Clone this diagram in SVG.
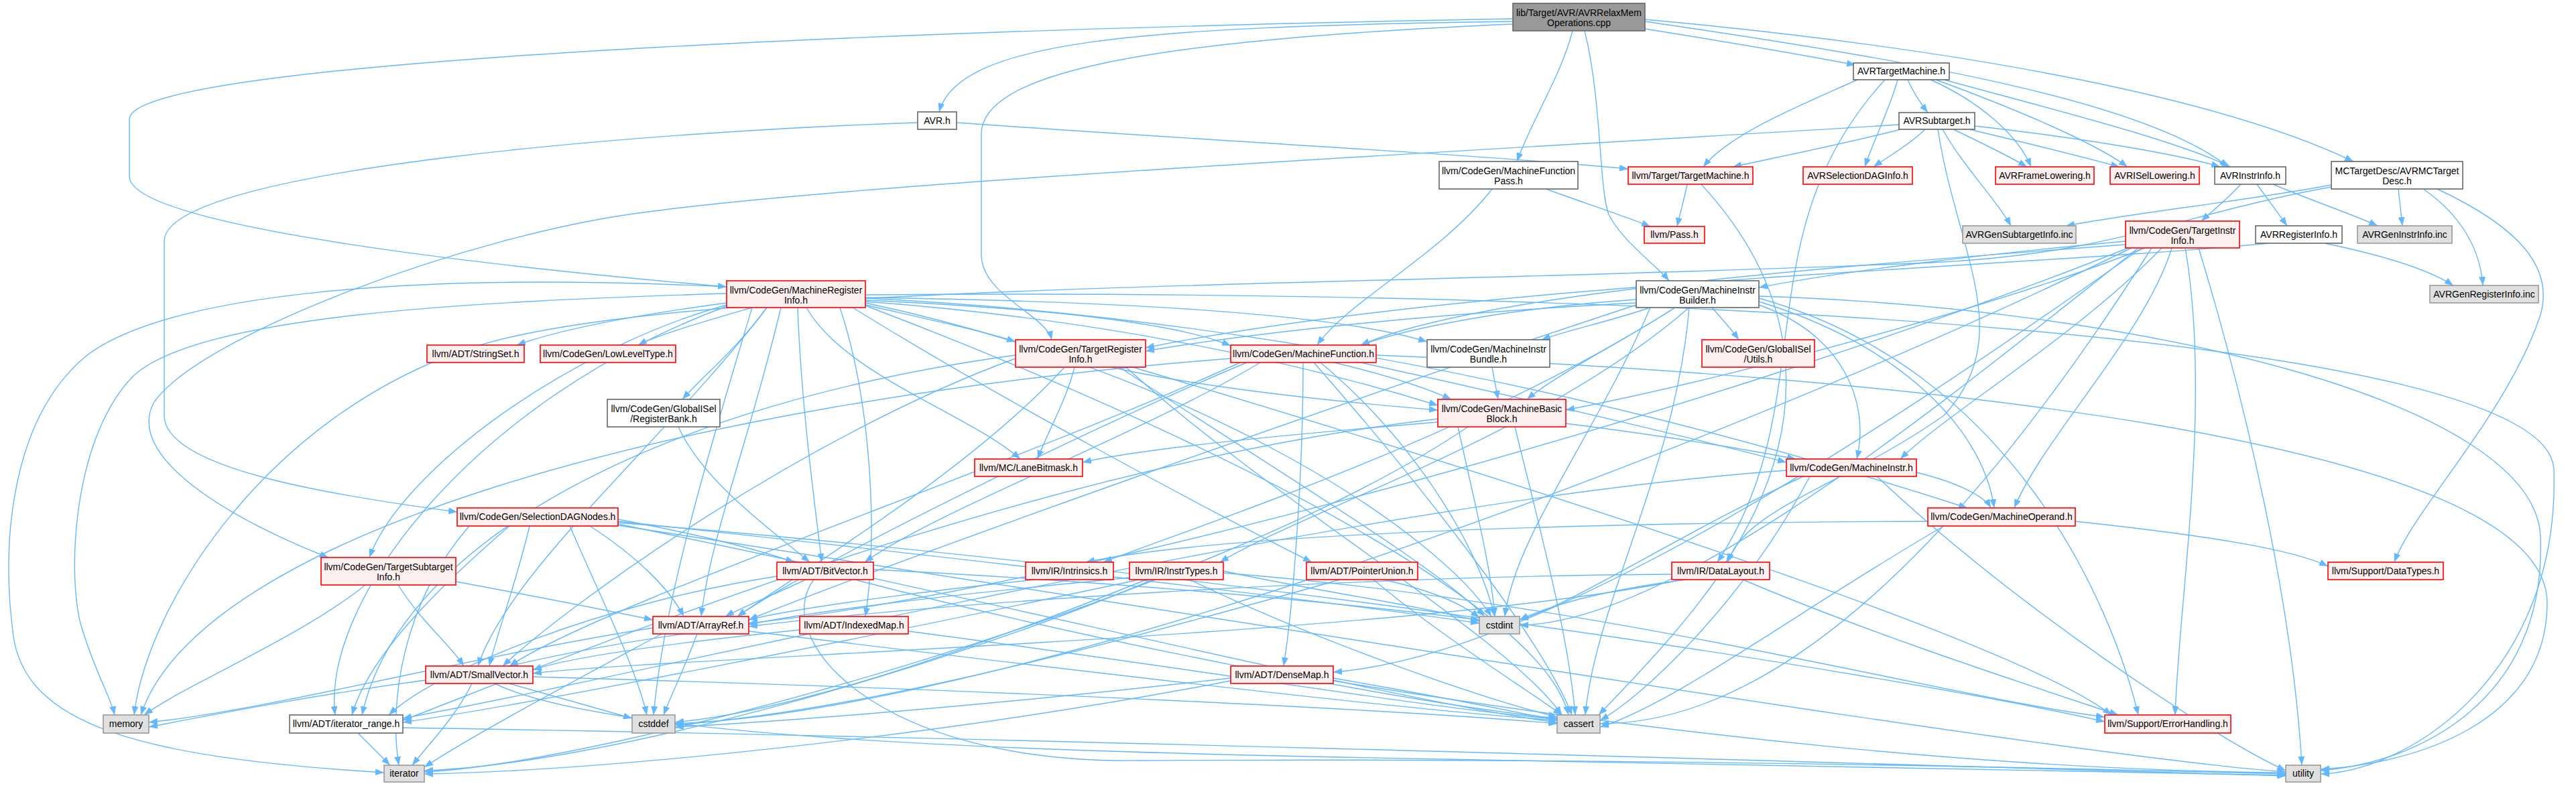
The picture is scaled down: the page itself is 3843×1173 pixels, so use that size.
<svg xmlns="http://www.w3.org/2000/svg" width="3843" height="1173" viewBox="0 0 3843 1173">
<defs>
<style>
.e path{fill:none;stroke:#63b8ff;stroke-width:1.4;marker-end:url(#a)}
.n rect{stroke-width:1.6}
.w rect{fill:#ffffff;stroke:#666666}
.r rect{fill:#fff0f0;stroke:#ff0000}
.g rect{fill:#e0e0e0;stroke:#999999}
.root rect{fill:#999999;stroke:#666666}
text{font-family:"Liberation Sans",Arial,sans-serif;font-size:14px;fill:#000000;text-anchor:middle}
</style>
<marker id="a" markerUnits="userSpaceOnUse" markerWidth="13" markerHeight="10" refX="13" refY="5" orient="auto">
<path d="M0,0 L13,5 L0,10 z" fill="#63b8ff" stroke="none"/>
</marker>
</defs>
<rect width="3843" height="1173" fill="#ffffff"/>
<g id="edges" class="e">
<path d="M2257,32 C1700,40 1430,60 1401,167"/>
<path d="M2257,28 C1600,40 193,80 193,178 L193,263 C193,340 760,400 1084,428"/>
<path d="M2257,36 C1700,60 1464,110 1464,200 L1464,380 C1464,440 1560,470 1569,507"/>
<path d="M2346,46 C2330,110 2285,180 2263,241"/>
<path d="M2364,46 C2390,150 2385,280 2400,320 C2420,360 2470,395 2490,419"/>
<path d="M2454,43 C2560,60 2680,80 2768,97"/>
<path d="M2454,32 C2850,90 3200,150 3324,249"/>
<path d="M2454,29 C2900,70 3300,140 3511,241"/>
<path d="M1369,183 C1000,195 245,250 245,360 L245,620 C245,700 500,740 682,764"/>
<path d="M1427,183 C1800,210 2200,230 2429,252"/>
<path d="M2771,119 C2680,160 2580,200 2541,249"/>
<path d="M2812,119 C2600,350 2720,600 2562,839"/>
<path d="M2831,119 C2820,160 2795,210 2782,249"/>
<path d="M2846,119 C2855,140 2866,155 2876,168"/>
<path d="M2880,119 C2950,150 3010,200 3030,249"/>
<path d="M2888,119 C3000,160 3120,210 3174,249"/>
<path d="M2900,119 C3050,160 3250,210 3327,249"/>
<path d="M2833,186 C2300,220 1300,270 960,317 C700,350 300,500 230,600 C180,690 380,790 490,832"/>
<path d="M2836,193 C2750,215 2650,235 2585,249"/>
<path d="M2872,193 C2850,215 2815,235 2795,249"/>
<path d="M2914,193 C2960,215 3000,235 3024,249"/>
<path d="M2938,193 C3030,215 3110,235 3162,249"/>
<path d="M2946,188 C3100,205 3250,230 3312,249"/>
<path d="M2898,193 C2930,250 2980,300 3000,337"/>
<path d="M2891,193 C2920,380 3010,500 2900,620 C2760,720 2600,760 2578,839"/>
<path d="M2306,282 C2370,305 2430,325 2462,338"/>
<path d="M2226,282 C2150,380 2010,450 1965,515"/>
<path d="M2517,275 C2512,300 2506,320 2502,338"/>
<path d="M2538,275 C2700,450 2700,650 2575,839"/>
<path d="M3343,275 C3320,300 3300,315 3284,330"/>
<path d="M3367,275 C3385,300 3400,320 3412,337"/>
<path d="M3391,275 C3450,300 3510,320 3547,337"/>
<path d="M3478,276 C3350,300 3200,315 3082,337"/>
<path d="M3478,279 C3250,320 3150,380 2880,392 C2000,430 1000,420 700,520 C400,620 220,900 200,1067"/>
<path d="M3578,282 C3580,300 3582,320 3584,337"/>
<path d="M3615,282 C3670,320 3700,370 3704,426"/>
<path d="M3636,282 C3760,340 3810,400 3790,470 C3740,620 3600,760 3572,839"/>
<path d="M3385,363 C3000,400 2200,420 1709,519"/>
<path d="M3468,363 C3550,380 3620,400 3660,426"/>
<path d="M3171,360 C2950,380 2750,405 2624,429"/>
<path d="M3171,365 C2700,400 2200,440 2030,515"/>
<path d="M3200,370 C3000,450 2600,560 2336,612"/>
<path d="M3225,370 C3100,500 2900,620 2835,685"/>
<path d="M3240,370 C3200,500 3050,650 3005,758"/>
<path d="M3260,370 C3300,600 3250,900 3245,1067"/>
<path d="M3280,370 C3350,600 3420,900 3434,1142"/>
<path d="M3210,370 C3000,700 2700,1080 2387,1080"/>
<path d="M3190,370 C2900,600 2500,930 2267,933"/>
<path d="M3180,370 C2500,700 1500,1060 1007,1080"/>
<path d="M3195,370 C2800,650 2300,980 1989,1003"/>
<path d="M3175,370 C2600,600 1600,880 1117,930"/>
<path d="M1084,452 C950,470 840,490 771,515"/>
<path d="M1122,459 C1050,480 980,500 952,515"/>
<path d="M1144,459 C1100,520 1050,560 1018,596"/>
<path d="M1291,455 C1400,480 1470,495 1515,510"/>
<path d="M1203,459 C1260,560 1450,620 1522,685"/>
<path d="M1291,448 C1550,460 1750,480 1836,516"/>
<path d="M1291,444 C1700,450 2000,470 2129,510"/>
<path d="M1291,450 C1700,480 2000,560 2145,605"/>
<path d="M1291,445 C2000,480 2600,650 2935,758"/>
<path d="M1084,455 C850,520 600,700 551,832"/>
<path d="M1190,459 C1195,600 1215,750 1226,839"/>
<path d="M1253,459 C1300,600 1310,800 1291,920"/>
<path d="M1165,459 C1120,650 1060,800 1046,920"/>
<path d="M1272,459 C1500,600 1800,760 1957,839"/>
<path d="M1144,459 C1000,650 760,850 713,994"/>
<path d="M1084,457 C700,600 480,900 500,1067"/>
<path d="M1084,438 C700,450 300,470 200,560 C110,650 100,850 120,930 C140,1000 165,1040 171,1067"/>
<path d="M1084,428 C600,405 250,440 130,530 C20,620 0,800 20,950 C40,1080 200,1130 573,1153"/>
<path d="M1122,459 C1050,700 990,900 975,1067"/>
<path d="M1291,452 C1800,560 2150,800 2225,920"/>
<path d="M1291,456 C1800,650 2300,900 2340,1067"/>
<path d="M1291,440 C2500,430 3800,500 3810,700 C3820,1000 3600,1150 3462,1155"/>
<path d="M2554,459 C2568,475 2582,490 2594,507"/>
<path d="M2462,459 C2400,480 2330,495 2300,507"/>
<path d="M2499,459 C2420,510 2320,560 2278,596"/>
<path d="M2441,447 C2250,460 2100,490 2030,515"/>
<path d="M2441,452 C2100,470 1850,500 1709,524"/>
<path d="M2624,455 C2750,500 2790,600 2770,685"/>
<path d="M2624,450 C2850,520 2960,650 2975,758"/>
<path d="M2520,459 C2300,650 1950,760 1820,839"/>
<path d="M2499,459 C2200,650 1800,780 1646,839"/>
<path d="M2624,445 C3000,550 3150,900 3190,1067"/>
<path d="M2520,459 C2500,700 2380,900 2365,1067"/>
<path d="M2462,459 C2380,650 2260,800 2245,920"/>
<path d="M2624,442 C3200,460 3780,600 3790,800 C3800,1050 3600,1140 3462,1150"/>
<path d="M2441,455 C2000,600 1300,850 1117,925"/>
<path d="M1603,548 C1590,600 1560,650 1548,685"/>
<path d="M1588,548 C1450,700 1200,850 1100,920"/>
<path d="M1515,535 C1200,650 850,900 750,994"/>
<path d="M1515,530 C1000,600 600,800 540,1067"/>
<path d="M1658,548 C1800,580 2000,600 2145,612"/>
<path d="M1690,548 C2200,700 3000,950 3150,1067"/>
<path d="M1680,548 C1900,750 2250,950 2330,1067"/>
<path d="M1670,548 C1900,700 2150,850 2215,920"/>
<path d="M2226,548 C2229,565 2232,580 2235,596"/>
<path d="M1990,541 C2070,560 2130,580 2165,596"/>
<path d="M2030,541 C2300,600 2550,660 2665,690"/>
<path d="M1860,541 C1600,650 1200,850 1100,920"/>
<path d="M1880,541 C1700,650 1400,760 1290,839"/>
<path d="M1944,541 C1944,700 1930,900 1915,994"/>
<path d="M1850,541 C1500,700 900,900 760,994"/>
<path d="M1960,541 C2100,700 2300,950 2345,1067"/>
<path d="M1970,541 C2100,650 2200,800 2230,920"/>
<path d="M1836,535 C1000,600 300,800 210,1067"/>
<path d="M2053,530 C2800,560 3800,650 3800,900 C3800,1080 3600,1140 3462,1148"/>
<path d="M2336,632 C2480,650 2600,670 2679,685"/>
<path d="M2145,630 C1900,650 1700,670 1615,690"/>
<path d="M2145,625 C1500,700 800,1000 601,1075"/>
<path d="M2175,637 C2200,750 2225,850 2230,920"/>
<path d="M2260,637 C2300,800 2340,950 2350,1067"/>
<path d="M2190,637 C1800,900 900,1140 633,1152"/>
<path d="M2859,705 C2920,720 2960,740 2970,758"/>
<path d="M2665,702 C2000,750 1000,1000 601,1072"/>
<path d="M2700,711 C2600,900 2450,1040 2387,1075"/>
<path d="M2690,711 C2500,800 2350,900 2267,925"/>
<path d="M2800,711 C3000,900 3300,1100 3410,1150"/>
<path d="M2876,778 C2300,780 1800,800 1620,839"/>
<path d="M3096,778 C3300,800 3420,820 3473,845"/>
<path d="M2900,785 C2700,900 2500,1050 2387,1085"/>
<path d="M880,785 C950,830 1000,880 1020,920"/>
<path d="M922,775 C1000,790 1100,810 1185,839"/>
<path d="M790,785 C770,870 740,950 730,994"/>
<path d="M760,785 C650,880 550,980 525,1067"/>
<path d="M922,780 C1800,850 2800,1000 3140,1077"/>
<path d="M922,782 C1500,900 2100,1050 2323,1078"/>
<path d="M850,785 C900,900 950,1000 965,1067"/>
<path d="M922,778 C1500,840 2000,900 2207,930"/>
<path d="M700,785 C600,900 580,1050 595,1142"/>
<path d="M922,784 C2000,950 3100,1130 3410,1152"/>
<path d="M545,873 C450,950 280,1020 215,1067"/>
<path d="M594,873 C630,930 670,960 692,994"/>
<path d="M680,868 C800,890 900,910 974,925"/>
<path d="M1012,637 C1050,720 1150,790 1208,839"/>
<path d="M1202,865 C1160,885 1110,905 1082,920"/>
<path d="M1159,860 C900,900 650,1000 580,1067"/>
<path d="M1275,865 C1600,950 2100,1050 2323,1072"/>
<path d="M1303,850 C1700,870 2000,900 2207,925"/>
<path d="M1214,865 C1150,950 1300,1140 1700,1135 C2500,1130 3200,1150 3410,1155"/>
<path d="M1021,946 C920,960 820,980 760,994"/>
<path d="M1040,946 C1020,1000 1000,1040 990,1067"/>
<path d="M1117,942 C1600,1000 2100,1060 2323,1075"/>
<path d="M987,946 C850,1020 700,1100 633,1145"/>
<path d="M974,937 C700,980 400,1060 222,1078"/>
<path d="M1193,940 C1000,960 850,980 795,1000"/>
<path d="M1355,942 C1800,1000 2150,1060 2323,1073"/>
<path d="M1999,865 C1700,950 1300,1060 1007,1082"/>
<path d="M2049,865 C2150,950 2280,1030 2330,1067"/>
<path d="M2064,865 C2130,880 2180,900 2207,922"/>
<path d="M1545,865 C1400,880 1200,905 1117,925"/>
<path d="M1685,862 C1500,880 1250,905 1117,932"/>
<path d="M1700,865 C1300,950 800,1050 601,1078"/>
<path d="M1825,855 C2400,900 2900,1040 3140,1070"/>
<path d="M1775,865 C1950,950 2200,1040 2323,1070"/>
<path d="M1710,865 C1500,950 1200,1060 1007,1078"/>
<path d="M1825,852 C1950,880 2100,900 2207,927"/>
<path d="M1720,865 C1400,1000 900,1140 633,1150"/>
<path d="M2494,857 C2000,860 1400,900 1117,935"/>
<path d="M2510,865 C2100,950 1000,980 795,1005"/>
<path d="M2515,865 C2400,880 2320,900 2267,925"/>
<path d="M2560,865 C2500,950 2420,1030 2385,1067"/>
<path d="M2600,865 C2800,950 3050,1030 3160,1067"/>
<path d="M1989,1012 C2150,1040 2250,1060 2323,1075"/>
<path d="M1836,1012 C1500,1050 1200,1075 1007,1085"/>
<path d="M1836,1016 C1400,1100 900,1150 633,1155"/>
<path d="M1989,1016 C2500,1100 3000,1150 3410,1153"/>
<path d="M635,1015 C450,1040 300,1070 222,1085"/>
<path d="M704,1020 C680,1070 640,1110 615,1142"/>
<path d="M759,1020 C830,1040 900,1060 943,1072"/>
<path d="M795,1010 C1500,1030 2100,1060 2323,1080"/>
<path d="M738,1020 C900,1100 1500,1120 2000,1130 C2600,1140 3100,1152 3410,1157"/>
<path d="M534,1094 C550,1110 566,1126 582,1142"/>
<path d="M601,1086 C1500,1100 2800,1140 3410,1158"/>
</g>
<g id="n1" class="n root"><rect x="2257" y="5" width="197" height="41"/><text x="2355.5" y="24">lib/Target/AVR/AVRRelaxMem</text><text x="2355.5" y="39">Operations.cpp</text></g>
<g id="n2" class="n w"><rect x="1369" y="167" width="58" height="26"/><text x="1398" y="185">AVR.h</text></g>
<g id="n3" class="n w"><rect x="2765" y="94" width="143" height="25"/><text x="2836.5" y="111">AVRTargetMachine.h</text></g>
<g id="n4" class="n w"><rect x="2833" y="168" width="113" height="25"/><text x="2889.5" y="185">AVRSubtarget.h</text></g>
<g id="n5" class="n w"><rect x="2147" y="241" width="207" height="41"/><text x="2250.5" y="260">llvm/CodeGen/MachineFunction</text><text x="2250.5" y="275">Pass.h</text></g>
<g id="n6" class="n r"><rect x="2429" y="249" width="186" height="26"/><text x="2522" y="267">llvm/Target/TargetMachine.h</text></g>
<g id="n7" class="n r"><rect x="2690" y="249" width="163" height="26"/><text x="2771.5" y="267">AVRSelectionDAGInfo.h</text></g>
<g id="n8" class="n r"><rect x="2453" y="338" width="90" height="25"/><text x="2498" y="355">llvm/Pass.h</text></g>
<g id="n9" class="n r"><rect x="2977" y="249" width="147" height="26"/><text x="3050.5" y="267">AVRFrameLowering.h</text></g>
<g id="n10" class="n r"><rect x="3148" y="249" width="133" height="26"/><text x="3214.5" y="267">AVRISelLowering.h</text></g>
<g id="n11" class="n w"><rect x="3304" y="249" width="106" height="26"/><text x="3357" y="267">AVRInstrInfo.h</text></g>
<g id="n12" class="n w"><rect x="3478" y="241" width="196" height="41"/><text x="3576" y="260">MCTargetDesc/AVRMCTarget</text><text x="3576" y="275">Desc.h</text></g>
<g id="n13" class="n g"><rect x="2928" y="337" width="169" height="26"/><text x="3012.5" y="355">AVRGenSubtargetInfo.inc</text></g>
<g id="n14" class="n r"><rect x="3171" y="330" width="170" height="40"/><text x="3256" y="349">llvm/CodeGen/TargetInstr</text><text x="3256" y="364">Info.h</text></g>
<g id="n15" class="n w"><rect x="3365" y="337" width="129" height="26"/><text x="3429.5" y="355">AVRRegisterInfo.h</text></g>
<g id="n16" class="n g"><rect x="3517" y="337" width="141" height="26"/><text x="3587.5" y="355">AVRGenInstrInfo.inc</text></g>
<g id="n17" class="n g"><rect x="3625" y="426" width="162" height="26"/><text x="3706" y="444">AVRGenRegisterInfo.inc</text></g>
<g id="n18" class="n r"><rect x="1084" y="419" width="207" height="40"/><text x="1187.5" y="438">llvm/CodeGen/MachineRegister</text><text x="1187.5" y="453">Info.h</text></g>
<g id="n19" class="n w"><rect x="2441" y="419" width="183" height="40"/><text x="2532.5" y="438">llvm/CodeGen/MachineInstr</text><text x="2532.5" y="453">Builder.h</text></g>
<g id="n20" class="n r"><rect x="637" y="515" width="145" height="26"/><text x="709.5" y="533">llvm/ADT/StringSet.h</text></g>
<g id="n21" class="n r"><rect x="806" y="515" width="202" height="26"/><text x="907" y="533">llvm/CodeGen/LowLevelType.h</text></g>
<g id="n22" class="n r"><rect x="1515" y="507" width="194" height="41"/><text x="1612" y="526">llvm/CodeGen/TargetRegister</text><text x="1612" y="541">Info.h</text></g>
<g id="n23" class="n r"><rect x="1836" y="515" width="217" height="26"/><text x="1944.5" y="533">llvm/CodeGen/MachineFunction.h</text></g>
<g id="n24" class="n w"><rect x="2129" y="507" width="183" height="41"/><text x="2220.5" y="526">llvm/CodeGen/MachineInstr</text><text x="2220.5" y="541">Bundle.h</text></g>
<g id="n25" class="n r"><rect x="2539" y="507" width="168" height="41"/><text x="2623" y="526">llvm/CodeGen/GlobalISel</text><text x="2623" y="541">/Utils.h</text></g>
<g id="n26" class="n w"><rect x="906" y="596" width="168" height="41"/><text x="990" y="615">llvm/CodeGen/GlobalISel</text><text x="990" y="630">/RegisterBank.h</text></g>
<g id="n27" class="n r"><rect x="2145" y="596" width="191" height="41"/><text x="2240.5" y="615">llvm/CodeGen/MachineBasic</text><text x="2240.5" y="630">Block.h</text></g>
<g id="n28" class="n r"><rect x="1454" y="685" width="161" height="26"/><text x="1534.5" y="703">llvm/MC/LaneBitmask.h</text></g>
<g id="n29" class="n r"><rect x="2665" y="685" width="194" height="26"/><text x="2762" y="703">llvm/CodeGen/MachineInstr.h</text></g>
<g id="n30" class="n r"><rect x="2876" y="758" width="220" height="27"/><text x="2986" y="776">llvm/CodeGen/MachineOperand.h</text></g>
<g id="n31" class="n r"><rect x="682" y="758" width="240" height="27"/><text x="802" y="776">llvm/CodeGen/SelectionDAGNodes.h</text></g>
<g id="n32" class="n r"><rect x="479" y="832" width="201" height="41"/><text x="579.5" y="851">llvm/CodeGen/TargetSubtarget</text><text x="579.5" y="866">Info.h</text></g>
<g id="n33" class="n r"><rect x="1159" y="839" width="144" height="26"/><text x="1231" y="857">llvm/ADT/BitVector.h</text></g>
<g id="n34" class="n r"><rect x="1530" y="839" width="131" height="26"/><text x="1595.5" y="857">llvm/IR/Intrinsics.h</text></g>
<g id="n35" class="n r"><rect x="1685" y="839" width="140" height="26"/><text x="1755" y="857">llvm/IR/InstrTypes.h</text></g>
<g id="n36" class="n r"><rect x="1949" y="839" width="166" height="26"/><text x="2032" y="857">llvm/ADT/PointerUnion.h</text></g>
<g id="n37" class="n r"><rect x="2494" y="839" width="146" height="26"/><text x="2567" y="857">llvm/IR/DataLayout.h</text></g>
<g id="n38" class="n r"><rect x="3473" y="839" width="172" height="26"/><text x="3559" y="857">llvm/Support/DataTypes.h</text></g>
<g id="n39" class="n r"><rect x="974" y="920" width="143" height="26"/><text x="1045.5" y="938">llvm/ADT/ArrayRef.h</text></g>
<g id="n40" class="n r"><rect x="1193" y="920" width="162" height="26"/><text x="1274" y="938">llvm/ADT/IndexedMap.h</text></g>
<g id="n41" class="n r"><rect x="1836" y="994" width="153" height="26"/><text x="1912.5" y="1012">llvm/ADT/DenseMap.h</text></g>
<g id="n42" class="n r"><rect x="635" y="994" width="160" height="26"/><text x="715" y="1012">llvm/ADT/SmallVector.h</text></g>
<g id="n43" class="n g"><rect x="2207" y="920" width="60" height="26"/><text x="2237" y="938">cstdint</text></g>
<g id="n44" class="n g"><rect x="154" y="1067" width="68" height="27"/><text x="188" y="1085">memory</text></g>
<g id="n45" class="n w"><rect x="432" y="1067" width="169" height="27"/><text x="516.5" y="1085">llvm/ADT/iterator_range.h</text></g>
<g id="n46" class="n g"><rect x="943" y="1067" width="64" height="27"/><text x="975" y="1085">cstddef</text></g>
<g id="n47" class="n g"><rect x="2323" y="1067" width="64" height="27"/><text x="2355" y="1085">cassert</text></g>
<g id="n48" class="n r"><rect x="3140" y="1067" width="188" height="27"/><text x="3234" y="1085">llvm/Support/ErrorHandling.h</text></g>
<g id="n49" class="n g"><rect x="573" y="1142" width="60" height="25"/><text x="603" y="1159">iterator</text></g>
<g id="n50" class="n g"><rect x="3410" y="1142" width="52" height="25"/><text x="3436" y="1159">utility</text></g>
</svg>
